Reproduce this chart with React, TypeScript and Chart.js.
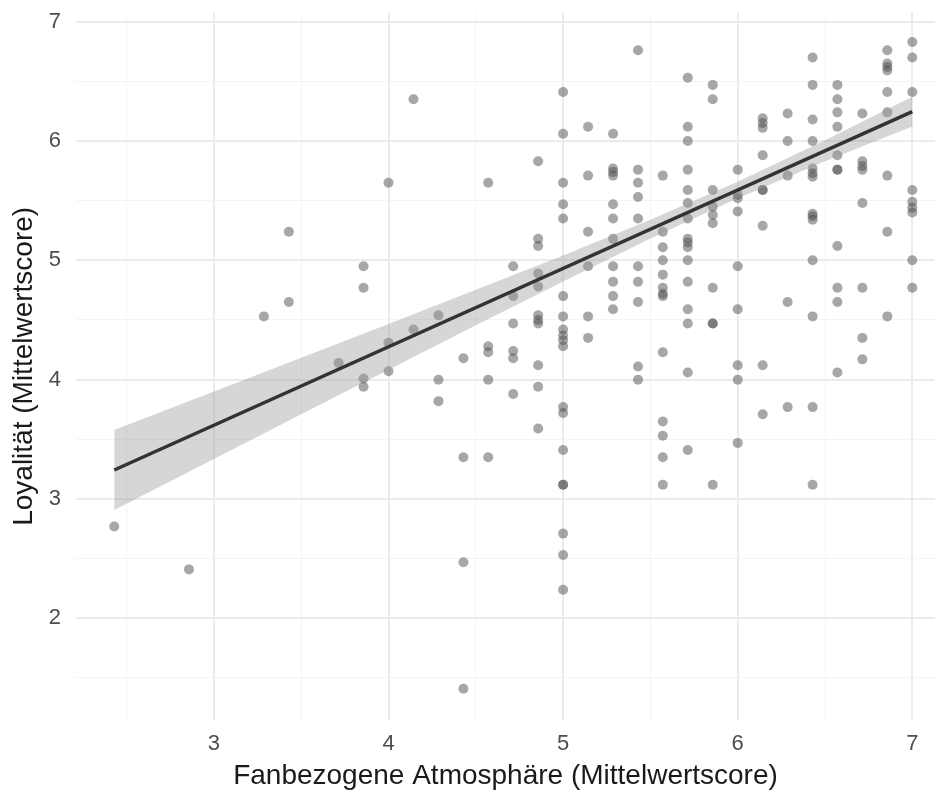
import { useEffect, useRef } from "react";
import { Chart, registerables } from "chart.js";

Chart.register(...registerables);

// x: "Fanbezogene Atmosphäre" score levels, y: "Loyalität" scores at each level
const atmosphereLevels = [
  2.429, 2.857, 3.286, 3.429, 3.714, 3.857, 4.0, 4.143, 4.286, 4.429, 4.571, 4.714,
  4.857, 5.0, 5.143, 5.286, 5.429, 5.571, 5.714, 5.857, 6.0, 6.143, 6.286, 6.429,
  6.571, 6.714, 6.857, 7.0,
];

const loyaltyByLevel: number[][] = [
  [2.77],
  [2.41],
  [4.53],
  [5.24, 4.65],
  [4.14],
  [4.95, 4.77, 4.01, 3.94],
  [5.65, 4.31, 4.07],
  [6.35, 4.42],
  [4.54, 4.0, 3.82],
  [4.18, 3.35, 2.47, 1.41],
  [5.65, 4.28, 4.23, 4.0, 3.35],
  [4.95, 4.7, 4.47, 4.24, 4.18, 3.88],
  [5.83, 5.18, 5.12, 4.89, 4.78, 4.54, 4.5, 4.47, 4.12, 3.94, 3.59],
  [6.41, 6.06, 5.65, 5.47, 5.35, 4.7, 4.53, 4.42, 4.37, 4.33, 4.28, 3.77, 3.72, 3.41, 3.12, 3.12, 2.71, 2.53, 2.24],
  [6.12, 5.71, 5.24, 4.95, 4.53, 4.35],
  [6.06, 5.77, 5.74, 5.71, 5.47, 5.35, 5.18, 4.95, 4.82, 4.7, 4.59],
  [6.76, 5.76, 5.65, 5.53, 5.35, 4.95, 4.82, 4.65, 4.11, 4.0],
  [5.71, 5.24, 5.11, 5.0, 4.88, 4.77, 4.72, 4.7, 4.23, 3.65, 3.53, 3.35, 3.12],
  [6.53, 6.12, 6.0, 5.76, 5.59, 5.48, 5.35, 5.18, 5.15, 5.11, 5.0, 4.82, 4.59, 4.47, 4.06, 3.41],
  [6.47, 6.35, 5.59, 5.45, 5.38, 5.31, 4.77, 4.47, 4.47, 3.12],
  [5.76, 5.55, 5.52, 5.41, 4.95, 4.59, 4.12, 4.0, 3.47],
  [6.19, 6.15, 6.11, 5.88, 5.59, 5.59, 5.29, 4.12, 3.71],
  [6.23, 6.0, 5.71, 4.65, 3.77],
  [6.7, 6.47, 6.18, 6.0, 5.77, 5.73, 5.7, 5.39, 5.37, 5.34, 5.0, 4.53, 3.77, 3.12],
  [6.47, 6.35, 6.24, 6.12, 5.88, 5.76, 5.76, 5.12, 4.77, 4.65, 4.06],
  [6.23, 5.83, 5.79, 5.76, 5.48, 4.77, 4.35, 4.17],
  [6.76, 6.65, 6.62, 6.59, 6.41, 6.24, 5.71, 5.24, 4.53],
  [6.83, 6.7, 6.41, 5.59, 5.49, 5.44, 5.4, 5.0, 4.77],
];

// regression line and its confidence band
const fitX = [2.429, 7.0];
const fitY = [3.243, 6.246];
const bandX = [2.429, 3.0, 3.5, 4.0, 4.5, 5.0, 5.5, 6.0, 6.5, 7.0];
const bandUpper = [3.578, 3.9, 4.184, 4.467, 4.753, 5.041, 5.339, 5.658, 6.006, 6.37];
const bandLower = [2.908, 3.336, 3.71, 4.083, 4.455, 4.823, 5.183, 5.52, 5.83, 6.122];

const xTitle = "Fanbezogene Atmosphäre (Mittelwertscore)";
const yTitle = "Loyalität (Mittelwertscore)";

const FONT = '"Liberation Sans", Arial, Helvetica, sans-serif';
const isMajor = (v: number) => Math.abs(v - Math.round(v)) < 1e-6;

export default function App() {
  const ref = useRef<HTMLCanvasElement>(null);

  useEffect(() => {
    const canvas = ref.current;
    if (!canvas) return;

    const points: { x: number; y: number }[] = [];
    atmosphereLevels.forEach((x, i) => {
      loyaltyByLevel[i].forEach((y) => points.push({ x, y }));
    });
    const upper = bandX.map((x, i) => ({ x, y: bandUpper[i] }));
    const lower = bandX.map((x, i) => ({ x, y: bandLower[i] }));
    const fit = fitX.map((x, i) => ({ x, y: fitY[i] }));

    const gridColor = (ctx: any) => (isMajor(ctx.tick.value) ? "#ebebeb" : "#f4f4f4");
    const gridWidth = (ctx: any) => (isMajor(ctx.tick.value) ? 2 : 1);
    const tickLabel = (v: any) => (isMajor(Number(v)) ? String(Math.round(Number(v))) : "");

    const chart = new Chart(canvas, {
      type: "scatter",
      data: {
        datasets: [
          {
            type: "scatter",
            data: points,
            pointRadius: 5,
            pointBackgroundColor: "rgba(80,80,80,0.5)",
            pointBorderWidth: 0,
            pointBorderColor: "rgba(0,0,0,0)",
            order: 3,
          } as any,
          {
            type: "line",
            data: upper,
            borderColor: "rgba(0,0,0,0)",
            borderWidth: 0,
            pointRadius: 0,
            fill: "+1",
            backgroundColor: "rgba(153,153,153,0.4)",
            order: 2,
          } as any,
          {
            type: "line",
            data: lower,
            borderColor: "rgba(0,0,0,0)",
            borderWidth: 0,
            pointRadius: 0,
            fill: false,
            order: 2,
          } as any,
          {
            type: "line",
            data: fit,
            borderColor: "#333333",
            borderWidth: 3.5,
            pointRadius: 0,
            fill: false,
            order: 1,
          } as any,
        ],
      },
      options: {
        responsive: false,
        animation: false,
        devicePixelRatio: 1,
        layout: { padding: { top: 12.7, left: 0, right: 0, bottom: 0 } },
        plugins: { legend: { display: false }, tooltip: { enabled: false } },
        scales: {
          x: {
            type: "linear",
            min: 2.21,
            max: 7.13,
            afterFit: (s: any) => {
              s.height = 73;
              s.paddingLeft = 0;
              s.paddingRight = 0;
            },
            ticks: {
              stepSize: 0.5,
              includeBounds: false,
              autoSkip: false,
              maxRotation: 0,
              callback: tickLabel,
              color: "#4d4d4d",
              font: { family: FONT, size: 22 },
              padding: 11,
            },
            grid: { color: gridColor, lineWidth: gridWidth, drawTicks: false },
            border: { display: false },
            title: {
              display: true,
              text: xTitle,
              color: "#1a1a1a",
              font: { family: FONT, size: 28 },
              padding: { top: 0, bottom: 0 },
            },
          },
          y: {
            type: "linear",
            min: 1.148,
            max: 7.075,
            afterFit: (s: any) => {
              s.width = 76;
              s.paddingTop = 0;
              s.paddingBottom = 0;
            },
            ticks: {
              stepSize: 0.5,
              includeBounds: false,
              autoSkip: false,
              callback: tickLabel,
              color: "#4d4d4d",
              font: { family: FONT, size: 22 },
              padding: 15,
            },
            grid: { color: gridColor, lineWidth: gridWidth, drawTicks: false },
            border: { display: false },
            title: {
              display: true,
              text: yTitle,
              color: "#1a1a1a",
              font: { family: FONT, size: 28 },
              padding: { top: 7, bottom: 0 },
            },
          },
        },
      },
    });

    return () => chart.destroy();
  }, []);

  return (
    <div style={{ position: "fixed", left: 0, top: 0, width: 940, height: 793, background: "#ffffff" }}>
      <canvas ref={ref} width={940} height={793} style={{ display: "block" }} />
    </div>
  );
}
